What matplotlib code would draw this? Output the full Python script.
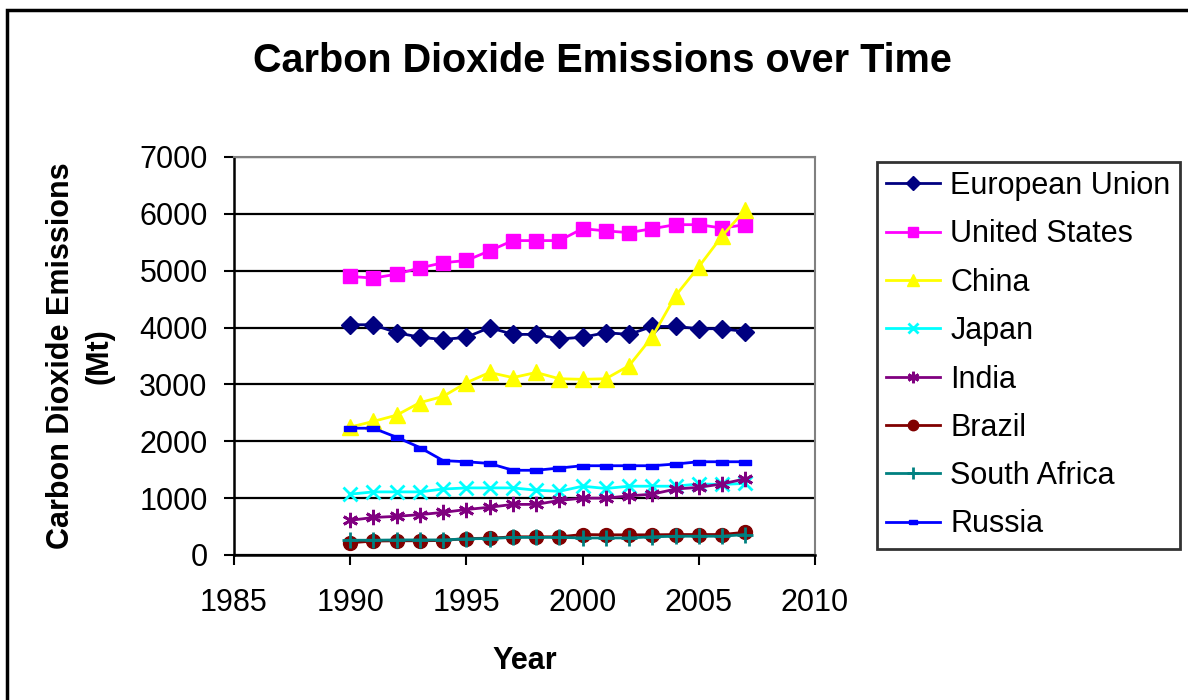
import numpy as np
import matplotlib
matplotlib.use("Agg")
import matplotlib.pyplot as plt
from matplotlib.patches import Rectangle

plt.rcParams['font.family'] = ['Liberation Sans', 'DejaVu Sans']

years = np.arange(1990, 2008)

eu = [4050, 4050, 3910, 3830, 3790, 3830, 4000, 3880, 3880, 3800,
      3830, 3910, 3880, 4020, 4020, 3980, 3980, 3930]
us = [4900, 4870, 4940, 5050, 5140, 5180, 5350, 5530, 5530, 5530,
      5740, 5700, 5670, 5740, 5810, 5810, 5750, 5810]
china = [2250, 2350, 2460, 2680, 2790, 3030, 3210, 3120, 3210, 3100,
         3090, 3100, 3330, 3840, 4560, 5070, 5610, 6070]
japan = [1070, 1110, 1110, 1110, 1160, 1180, 1180, 1180, 1140, 1120,
         1210, 1170, 1210, 1210, 1210, 1250, 1240, 1260]
india = [610, 660, 680, 710, 750, 800, 840, 890, 890, 960,
         1000, 1000, 1040, 1070, 1160, 1190, 1250, 1340]
brazil = [215, 245, 250, 250, 255, 290, 295, 320, 320, 320,
          360, 355, 355, 355, 360, 360, 360, 400]
safrica = [260, 260, 265, 265, 265, 285, 290, 310, 310, 310,
           300, 300, 300, 320, 330, 330, 330, 360]
russia = [2230, 2230, 2070, 1890, 1660, 1640, 1610, 1490, 1490, 1530,
          1570, 1570, 1570, 1570, 1600, 1640, 1640, 1640]

names = ["European Union", "United States", "China", "Japan", "India",
         "Brazil", "South Africa", "Russia"]
series = [eu, us, china, japan, india, brazil, safrica, russia]
colors = ["#000080", "#FF00FF", "#FFFF00", "#00FFFF", "#800080",
          "#800000", "#008080", "#0000FF"]
rect = [(-1, -0.45), (1, -0.45), (1, 0.45), (-1, 0.45), (-1, -0.45)]
markers = ["D", "s", "^", "x", (6, 2, 0), "o", "+", rect]
msizes = [9, 10, 12, 10, 11, 10, 11, 8]

fig = plt.figure(figsize=(11.88, 7.0), dpi=100)
ax = fig.add_axes([234/1188, 1-555/700, (815-234)/1188, (555-157)/700])

for vals, nm, c, m, ms in zip(series, names, colors, markers, msizes):
    thin = m in ("x", "+") or isinstance(m, tuple)
    ax.plot(years, vals, color=c, lw=2, marker=m, markersize=ms,
            markeredgecolor=c, markerfacecolor=c,
            markeredgewidth=2 if thin else 1, label=nm)

ax.set_xlim(1985, 2010)
ax.set_ylim(0, 7000)
ax.set_xticks(np.arange(1985, 2011, 5))
ax.set_yticks(np.arange(0, 7001, 1000))
ax.yaxis.grid(True, color="black", lw=1.6)
ax.set_axisbelow(True)
for s in ["top", "right"]:
    ax.spines[s].set_color("#808080")
    ax.spines[s].set_linewidth(1.5)
for s in ["left", "bottom"]:
    ax.spines[s].set_linewidth(1.8)
ax.tick_params(axis="both", direction="out", length=7, width=1.5,
               labelsize=22, pad=12)
ax.tick_params(axis="x", pad=17)

ax.set_xlabel("Year", fontsize=22, fontweight="bold", labelpad=20)
ax.set_ylabel("Carbon Dioxide Emissions\n(Mt)", fontsize=22,
              fontweight="bold", labelpad=18, linespacing=1.35)

fig.text(602/1188, 1-61/700, "Carbon Dioxide Emissions over Time",
         ha="center", va="center", fontsize=28.5, fontweight="bold")

leg = ax.legend(loc="upper left", bbox_to_anchor=(877/1188, 1-162/700),
                bbox_transform=fig.transFigure, fontsize=22, frameon=True,
                fancybox=False, edgecolor="black", handlelength=1.75,
                handletextpad=0.35, labelspacing=0.6, borderpad=0.3,
                borderaxespad=0)
leg.get_frame().set_linewidth(2)
for h in leg.legend_handles:
    h.set_markersize(h.get_markersize() * 0.75)

fig.patches.append(Rectangle((7/1188, -0.5), 3, 0.5 + 1 - 10/700,
                             transform=fig.transFigure, fill=False,
                             edgecolor="black", lw=2.5))

fig.savefig("out.png", dpi=100)
